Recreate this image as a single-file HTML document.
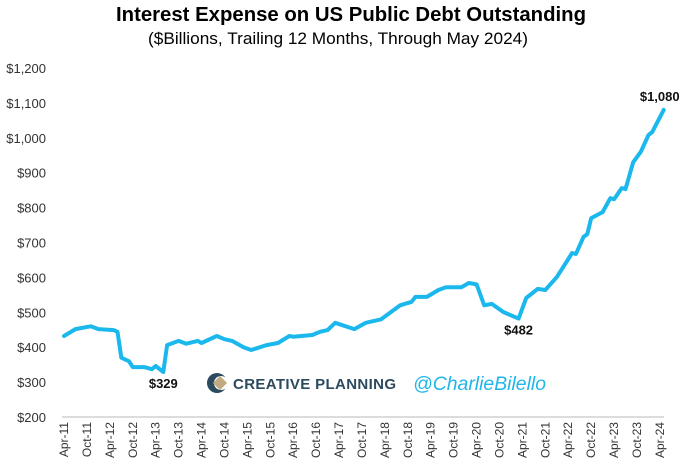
<!DOCTYPE html>
<html><head><meta charset="utf-8"><style>
html,body{margin:0;padding:0;background:#fff;}
svg{display:block;font-family:"Liberation Sans",sans-serif;}
</style></head><body>
<svg id="chart" width="680" height="475" viewBox="0 0 680 475">
<text x="351" y="21" text-anchor="middle" font-size="20" font-weight="bold" fill="#000" textLength="470" lengthAdjust="spacingAndGlyphs">Interest Expense on US Public Debt Outstanding</text>
<text x="338" y="44" text-anchor="middle" font-size="17" fill="#000" textLength="380" lengthAdjust="spacingAndGlyphs">($Billions, Trailing 12 Months, Through May 2024)</text>
<g id="yaxis"></g>
<g id="xaxis"></g>
<line x1="62" y1="417" x2="664" y2="417" stroke="#d0d0d0" stroke-width="1.5"/>
<g>
<circle cx="217" cy="383" r="10" fill="#2c4a5e"/>
<circle cx="221" cy="383" r="7" fill="#fff"/>
<rect x="215" y="378" width="10" height="10" fill="#c2aa80" transform="rotate(45 220 383)"/>
<text x="233" y="389" font-size="15" font-weight="bold" fill="#2c4a5e" textLength="163" lengthAdjust="spacing">CREATIVE PLANNING</text>
<text x="413" y="390" font-size="19" font-style="italic" fill="#1fb6ea" textLength="133" lengthAdjust="spacingAndGlyphs">@CharlieBilello</text>
</g>
<path id="series" fill="none" stroke="#1ab8ec" stroke-width="4" stroke-linejoin="round" stroke-linecap="round"/>
<g id="annots"></g>
</svg>
<script>
const months = [0,3,7,9,13,14,15,17,18,21,23,24,26,27,30,32,35,36,40,42,44,47,49,53,56,59,60,65,67,69,71,76,79,83,88,91,92,95,98,100,104,106,108,110,112,115,119,121,124,126,129,131,133,134,136,137,138,141,143,144,146,147,149,151,153,154,157];
const values = [432,452,460,452,449,444,370,360,343,343,337,346,329,406,418,410,418,412,432,423,418,400,392,406,412,432,430,435,444,449,470,452,470,480,520,530,544,544,564,572,572,584,580,520,524,501,482,541,567,564,601,635,670,667,716,724,770,787,827,824,856,853,930,960,1008,1017,1080];
const yTicks = [200,300,400,500,600,700,800,900,1000,1100,1200];
const yTickLabels = ["$200","$300","$400","$500","$600","$700","$800","$900","$1,000","$1,100","$1,200"];
const xTickLabels = ["Apr-11","Oct-11","Apr-12","Oct-12","Apr-13","Oct-13","Apr-14","Oct-14","Apr-15","Oct-15","Apr-16","Oct-16","Apr-17","Oct-17","Apr-18","Oct-18","Apr-19","Oct-19","Apr-20","Oct-20","Apr-21","Oct-21","Apr-22","Oct-22","Apr-23","Oct-23","Apr-24"];
const annotLabels = ["$329","$482","$1,080"];
const annotIdx = [12,46,66];

const NS="http://www.w3.org/2000/svg";
const xS = m => 64 + m*3.82;
const yS = v => 417 - (v-200)*0.349;
const ya=document.getElementById('yaxis');
yTicks.forEach((t,i)=>{
  const e=document.createElementNS(NS,'text');
  e.setAttribute('x',46);e.setAttribute('y',yS(t)+5);
  e.setAttribute('text-anchor','end');e.setAttribute('font-size','13');e.setAttribute('fill','#333');
  
  
  e.textContent=yTickLabels[i];ya.appendChild(e);
});
const xa=document.getElementById('xaxis');
xTickLabels.forEach((t,i)=>{
  const x=xS(i*6)+4;
  const e=document.createElementNS(NS,'text');
  e.setAttribute('transform','translate('+x+',422) rotate(-90)');
  e.setAttribute('text-anchor','end');e.setAttribute('font-size','12');e.setAttribute('fill','#333');
  
  
  e.textContent=t;xa.appendChild(e);
});
document.getElementById('series').setAttribute('d',months.map((m,i)=>(i?'L':'M')+xS(m).toFixed(1)+','+yS(values[i]).toFixed(1)).join(''));
const an=document.getElementById('annots');
const offs=[[0,16],[0,16],[-4,-9]];
annotIdx.forEach((k,i)=>{
  const e=document.createElementNS(NS,'text');
  e.setAttribute('x',xS(months[k])+offs[i][0]);e.setAttribute('y',yS(values[k])+offs[i][1]);
  e.setAttribute('text-anchor','middle');e.setAttribute('font-size','13');e.setAttribute('font-weight','bold');e.setAttribute('fill','#111');
  
  
  e.textContent=annotLabels[i];an.appendChild(e);
});
</script>
</body></html>
